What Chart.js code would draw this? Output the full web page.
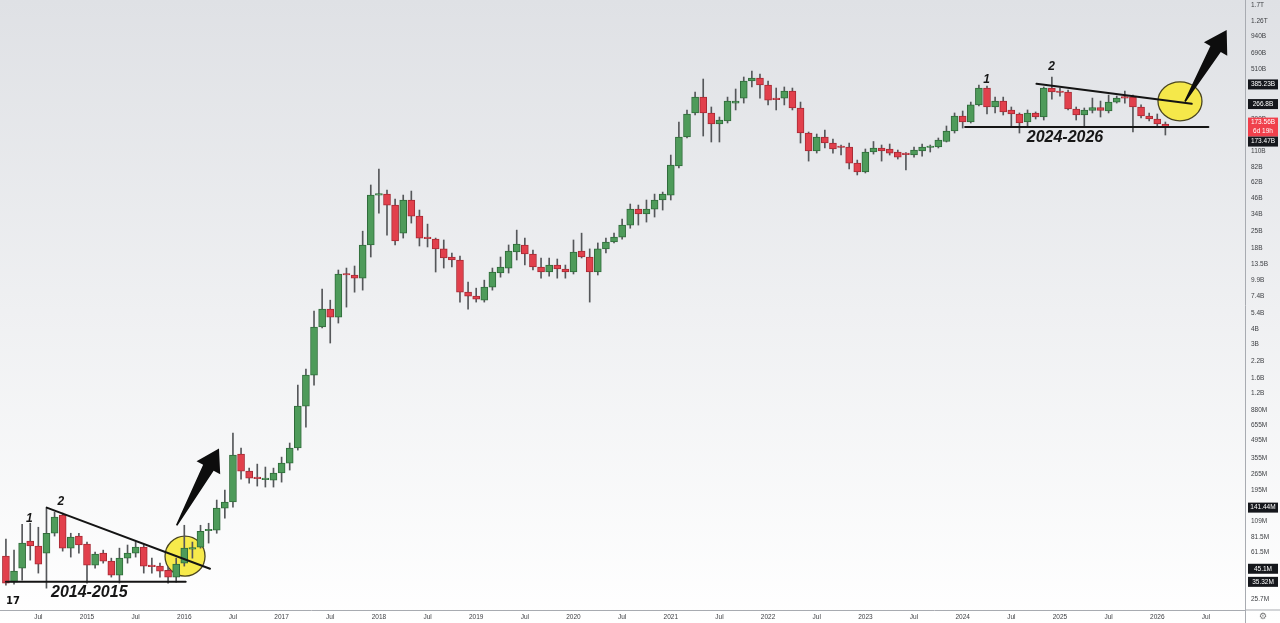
<!DOCTYPE html>
<html><head><meta charset="utf-8">
<script src="https://cdn.jsdelivr.net/npm/chart.js@4.4.1/dist/chart.umd.min.js"></script>
<style>html,body{margin:0;padding:0;background:#fff;overflow:hidden}#wrap{width:1280px;height:623px}</style>
</head><body><div id="wrap"><canvas id="c" width="1280" height="623"></canvas></div>
<script>
// Monthly candles, March 2014 .. February 2026 (month index counted from Jan 2014)
const FIRST_MONTH_INDEX = 2;
// values in billions of USD
const openB = [
 .0571,.0351,.0456,.0757,.0690,.0604,.0876,.123,.0663,.0831,
 .0716,.0482,.0604,.0520,.0401,.0550,.0604,.0676,.0474,.0474,.0439,.0386,
 .0501,.0651,.0676,.0918,.0926,.140,.157,.385,.280,.2455,.2387,.2364,
 .270,.3253,.431,.942,1.684,4.137,5.778,4.98,11.03,10.93,10.31,19.16,
 48.7,49.6,40.4,23.9,44.4,32.9,21.8,21.4,17.8,15.3,14.47,7.93,
 7.36,6.83,8.71,11.34,12.45,16.8,19.16,16.2,12.69,11.56,13.17,12.23,
 11.56,17.13,15.3,11.56,17.8,20.26,22.2,27.8,37.5,34.2,37.5,44.4,
 48.7,83.9,144.1,225.9,304,225.9,183.9,194.5,271.9,298.4,410.6,434.3,
 380.9,293,298.4,340.5,248,155.3,110.9,144.1,128.8,119.6,119.6,88.6,
 75.0,108.9,117.4,115.2,108.9,104.8,102.9,110.9,118.5,119.6,132.5,161.2,
 213.5,190.8,262.5,360,252.6,282.3,239,221.6,190.8,225.9,209.5,360,
 337,334.5,243.5,217.5,236.7,250.3,234.4,277,301.3,304,252.6,213.5,
 201.8,183.9];
const highB = [
 .0786,.0639,.1037,.1056,.098,.140,.130,.1276,.0876,.0876,
 .0743,.0616,.0639,.0550,.0663,.0703,.0743,.0703,.0550,.0501,.0465,.0550,
 .1017,.0743,.1017,.1056,.163,.196,.570,.431,.296,.319,.302,.296,
 .3634,.473,1.397,1.884,5.564,8.39,6.83,12.0,12.45,12.93,24.8,58.8,
 79.3,53.5,45.2,48.7,52.5,36.8,28.3,21.8,21.04,16.5,15.6,9.56,
 8.55,9.93,12.45,15.3,19.16,25.3,21.8,17.45,15.03,15.03,14.74,13.17,
 21.04,23.9,17.8,19.9,21.8,23.9,31.1,41.2,40.4,44.4,49.6,51.5,
 102.9,190.8,239,334,426,252.6,209.5,304,353.5,442.5,495,467.9,
 410.6,360,367.2,360,277,158.2,152.4,164.3,138.8,124.1,128.8,93.7,
 115.2,132.5,124.1,126.4,113,107.8,119.6,126.4,124.1,141.5,177.1,225.9,
 234.4,277,380.9,373.9,304,304,252.6,225.9,239,230.2,367.2,442.5,
 360,346.9,252.6,248,298.4,282.3,315.6,309.9,340.3,315.6,262.5,225.9,
 221.6,190.8];
const lowB = [
 .0332,.0339,.0365,.0530,.0416,.0314,.0831,.0627,.0561,.0604,
 .0345,.0456,.0501,.0386,.0345,.0501,.0561,.0416,.0416,.0386,.0345,.0351,
 .0474,.0550,.0663,.0729,.0876,.1163,.1429,.241,.2236,.2116,.2077,.2077,
 .2278,.2854,.4145,.6375,1.397,4.059,3.065,4.453,6.0,7.93,8.24,15.3,
 34.8,23.0,19.16,21.8,28.85,18.8,18.46,11.56,12.45,12.69,6.59,5.778,
 6.59,6.59,8.24,10.5,11.34,14.47,13.17,12.0,10.31,10.7,10.31,10.31,
 11.14,15.03,6.59,10.93,16.5,19.9,21.4,26.2,27.8,29.4,32.3,36.8,
 44.4,80.8,141.5,217.5,146.8,131.3,131.3,187.3,239,271.9,367.2,298.4,
 262.5,239,262.5,239,128.8,91.9,106.8,117.4,106.8,102.9,79.3,70.9,
 73.6,104.8,91.9,102.9,95.5,77.9,99.1,100.9,108.9,117.4,131.3,155.3,
 170.6,187.3,257.5,221.6,225.9,217.5,177.1,155.3,173.8,201.8,198,293,
 309.9,239,198,173.8,225.9,209.5,225.9,271.9,271.9,158.2,205.7,194.5,
 177.1,149.6];
const closeB = [
 .0345,.0432,.0729,.0690,.0492,.0876,.1184,.0663,.0816,.0703,
 .0482,.0593,.0520,.0401,.0550,.0604,.0676,.0474,.0470,.0432,.0386,.0492,
 .0663,.0663,.0909,.0926,.140,.157,.3775,.280,.2455,.2433,.241,.270,
 .3253,.431,.942,1.684,4.137,5.778,4.98,11.14,10.93,10.31,19.16,48.7,
 49.6,40.4,20.66,44.4,32.9,21.8,21.57,17.8,15.03,14.47,7.93,7.36,
 6.96,8.71,11.56,12.69,17.13,19.5,16.2,12.69,11.56,13.17,12.23,11.56,
 16.8,15.3,11.56,17.8,20.26,22.2,27.8,37.5,34.2,37.5,44.4,49.6,
 85.4,144.1,221.6,304,225.9,183.9,198,282.3,282.3,410.6,434.3,380.9,
 287.5,290.3,340.5,248,155.3,110.9,144.1,128.8,115.2,118.5,88.6,75.0,
 108.9,117.4,110.9,106.8,99.1,103.8,113,119.6,120.7,136.2,161.2,213.5,
 190.8,262.5,360,252.6,282.3,230.2,221.6,187.3,225.9,209.5,360,334.5,
 331,243.5,217.5,239,250.3,236.7,277,298.4,298.4,252.6,213.5,201.8,
 183.9,173.56];

// x-axis ticks (month index from Jan 2014) and their labels
const xTickMonths = [6,12,18,24,30,36,42,48,54,60,66,72,78,84,90,96,102,108,114,120,126,132,138,144,150];
const xTickText = ['Jul','2015','Jul','2016','Jul','2017','Jul','2018','Jul','2019','Jul','2020','Jul','2021','Jul','2022','Jul','2023','Jul','2024','Jul','2025','Jul','2026','Jul'];

// y-axis ticks
const yTickValues = [1.7e12,1.26e12,940e9,690e9,510e9,200e9,110e9,82e9,62e9,46e9,34e9,25e9,18e9,13.5e9,9.9e9,7.4e9,5.4e9,4e9,3e9,2.2e9,1.6e9,1.2e9,880e6,655e6,495e6,355e6,265e6,195e6,109e6,81.5e6,61.5e6,25.7e6];
const yTickText = ['1.7T','1.26T','940B','690B','510B','200B','110B','82B','62B','46B','34B','25B','18B','13.5B','9.9B','7.4B','5.4B','4B','3B','2.2B','1.6B','1.2B','880M','655M','495M','355M','265M','195M','109M','81.5M','61.5M','25.7M'];

// price labels on the axis
const markerValues = [385.23e9, 266.8e9, 173.56e9, 173.47e9, 141.44e6, 45.1e6, 35.32e6];
const markerText = [['385.23B'],['266.8B'],['173.56B','6d 19h'],['173.47B'],['141.44M'],['45.1M'],['35.32M']];
const markerIsLast = [false,false,true,false,false,false,false];

// drawn annotations, in data units [month, value]
const trendLines = [
  [[7.03,141.44e6],[27.17,45.1e6]],
  [[2.0,35.32e6],[24.17,35.32e6]],
  [[129.1,390e9],[148.25,268e9]],
  [[120.3,173.47e9],[150.3,173.47e9]]
];
const circles = [[24.09,57.1e6,20,20],[146.8,281e9,22,19.5]];
const arrows = [[[23.06,101.7e6],[28.28,427e6]],[[147.42,280e9],[152.56,1065e9]]];
const noteText = ['1','2','2014-2015','1','2','2024-2026'];
const notePos = [[4.88,114.1e6],[8.76,157.7e6],[12.28,28.75e6],[122.96,423.8e9],[130.98,536.5e9],[132.62,141.5e9]];
const noteBig = [false,false,true,false,false,true];

const UP = '#4e9b5a', UP_B = '#2f6b3a', DN = '#e2404c', DN_B = '#a82a34';
const months = openB.map((_, i) => FIRST_MONTH_INDEX + i);
const bodies = months.map((m, i) => ({x: m, y: [openB[i]*1e9, closeB[i]*1e9]}));
const wicks = months.map((m, i) => ({x: m, y: [lowB[i]*1e9, highB[i]*1e9]}));
const isUp = months.map((m, i) => closeB[i] >= openB[i]);

const annot = {
  id: 'annot',
  beforeDraw(chart) {
    const {ctx, width, height} = chart;
    const g = ctx.createLinearGradient(0, 0, 0, height);
    g.addColorStop(0, '#dfe1e5');
    g.addColorStop(0.5, '#eff0f2');
    g.addColorStop(1, '#ffffff');
    ctx.save(); ctx.fillStyle = g; ctx.fillRect(0, 0, width, height); ctx.restore();
  },
  beforeDatasetsDraw(chart) {
    const {ctx, scales: {x, y}} = chart;
    ctx.save();
    circles.forEach(c => {
      ctx.beginPath();
      ctx.ellipse(x.getPixelForValue(c[0]), y.getPixelForValue(c[1]), c[2], c[3], 0, 0, Math.PI*2);
      ctx.fillStyle = 'rgba(246,232,60,0.92)';
      ctx.fill();
      ctx.lineWidth = 1.3; ctx.strokeStyle = '#4a4520'; ctx.stroke();
    });
    ctx.restore();
  },
  afterDatasetsDraw(chart) {
    const {ctx, scales: {x, y}} = chart;
    ctx.save();
    ctx.strokeStyle = '#141414'; ctx.lineWidth = 2; ctx.lineCap = 'round';
    trendLines.forEach(l => {
      ctx.beginPath();
      ctx.moveTo(x.getPixelForValue(l[0][0]), y.getPixelForValue(l[0][1]));
      ctx.lineTo(x.getPixelForValue(l[1][0]), y.getPixelForValue(l[1][1]));
      ctx.stroke();
    });
    ctx.fillStyle = '#0d0d0d';
    arrows.forEach(a => {
      const x0 = x.getPixelForValue(a[0][0]), y0 = y.getPixelForValue(a[0][1]);
      const x1 = x.getPixelForValue(a[1][0]), y1 = y.getPixelForValue(a[1][1]);
      const L = Math.hypot(x1-x0, y1-y0), dx = (x1-x0)/L, dy = (y1-y0)/L, px = -dy, py = dx;
      const hl = 22, hw = 13.5, sw = 6, tw = 0.8;
      const bx = x1 - dx*hl, by = y1 - dy*hl;
      ctx.beginPath();
      ctx.moveTo(x0 + px*tw, y0 + py*tw);
      ctx.lineTo(bx + px*sw, by + py*sw);
      ctx.lineTo(bx + px*hw, by + py*hw);
      ctx.lineTo(x1, y1);
      ctx.lineTo(bx - px*hw, by - py*hw);
      ctx.lineTo(bx - px*sw, by - py*sw);
      ctx.lineTo(x0 - px*tw, y0 - py*tw);
      ctx.closePath(); ctx.fill();
    });
    ctx.fillStyle = '#161616'; ctx.textAlign = 'center'; ctx.textBaseline = 'middle';
    noteText.forEach((t, i) => {
      ctx.font = noteBig[i] ? 'italic bold 16px "Liberation Sans"' : 'italic bold 12px "Liberation Sans"';
      ctx.fillText(t, x.getPixelForValue(notePos[i][0]), y.getPixelForValue(notePos[i][1]));
    });
    ctx.restore();
  },
  afterDraw(chart) {
    const {ctx, chartArea: ca, scales: {y}, width, height} = chart;
    ctx.save();
    ctx.strokeStyle = '#a8abb1'; ctx.lineWidth = 1;
    ctx.beginPath(); ctx.moveTo(ca.right, ca.bottom); ctx.lineTo(width, ca.bottom); ctx.stroke();
    ctx.beginPath(); ctx.moveTo(ca.right + 0.5, ca.bottom); ctx.lineTo(ca.right + 0.5, height); ctx.stroke();
    let lastBottom = -1e9;
    const order = markerValues.map((v, i) => i).sort((a, b) => markerValues[b] - markerValues[a]);
    order.forEach(i => {
      const lines = markerText[i];
      const h = lines.length * 9 + 1;
      let top = y.getPixelForValue(markerValues[i]) - h/2;
      if (top < lastBottom) top = lastBottom;
      lastBottom = top + h;
      ctx.fillStyle = markerIsLast[i] ? '#f0404c' : '#15171c';
      ctx.fillRect(ca.right + 3, top, 30, h);
      ctx.fillStyle = '#ffffff';
      ctx.font = '6.5px "Liberation Sans"';
      ctx.textAlign = 'center'; ctx.textBaseline = 'middle';
      lines.forEach((t, k) => ctx.fillText(t, ca.right + 18, top + 5 + k*9));
    });
    ctx.fillStyle = '#111'; ctx.font = 'bold 10px "DejaVu Sans"'; ctx.textAlign = 'center'; ctx.textBaseline = 'middle';
    ctx.fillText('17', 13, 601);
    ctx.fillStyle = '#777'; ctx.font = '9px "DejaVu Sans"';
    ctx.fillText('⚙', ca.right + 18, ca.bottom + 7);
    ctx.restore();
  }
};

new Chart(document.getElementById('c'), {
  type: 'bar',
  data: {
    datasets: [
      {label: 'body', data: bodies, order: 0, grouped: false, barThickness: 7, minBarLength: 1.5,
       backgroundColor: isUp.map(u => u ? UP : DN), borderColor: isUp.map(u => u ? UP_B : DN_B),
       borderWidth: 1, borderSkipped: false},
      {label: 'wick', data: wicks, order: 1, grouped: false, barThickness: 1,
       backgroundColor: '#55575a', borderWidth: 0}
    ]
  },
  plugins: [annot],
  options: {
    responsive: false, animation: false, devicePixelRatio: 1,
    layout: {padding: 0},
    plugins: {legend: {display: false}, tooltip: {enabled: false}},
    scales: {
      x: {
        type: 'linear', min: 1.27, max: 154.82, offset: false,
        grid: {display: false, drawTicks: false, offset: false},
        border: {display: true, color: '#a8abb1'},
        afterBuildTicks: s => { s.ticks = xTickMonths.map(v => ({value: v})); },
        afterFit: s => { s.height = 13; s.paddingLeft = 0; s.paddingRight = 0; },
        ticks: {autoSkip: false, maxRotation: 0, padding: 3, color: '#3f4145',
          font: {family: 'Liberation Sans', size: 6.5},
          callback: v => { const k = xTickMonths.indexOf(v); return k >= 0 ? xTickText[k] : ''; }}
      },
      y: {
        type: 'logarithmic', position: 'right', min: 2.087e7, max: 1.866e12,
        grid: {display: false, drawTicks: false},
        border: {display: true, color: '#a8abb1'},
        afterBuildTicks: s => { s.ticks = yTickValues.slice().sort((a, b) => a - b).map(v => ({value: v})); },
        afterFit: s => { s.width = 35; s.paddingTop = 0; s.paddingBottom = 0; },
        ticks: {autoSkip: false, padding: 6, color: '#3f4145',
          font: {family: 'Liberation Sans', size: 6.5},
          callback: v => { const k = yTickValues.indexOf(v); return k >= 0 ? yTickText[k] : ''; }}
      }
    }
  }
});
</script></body></html>
